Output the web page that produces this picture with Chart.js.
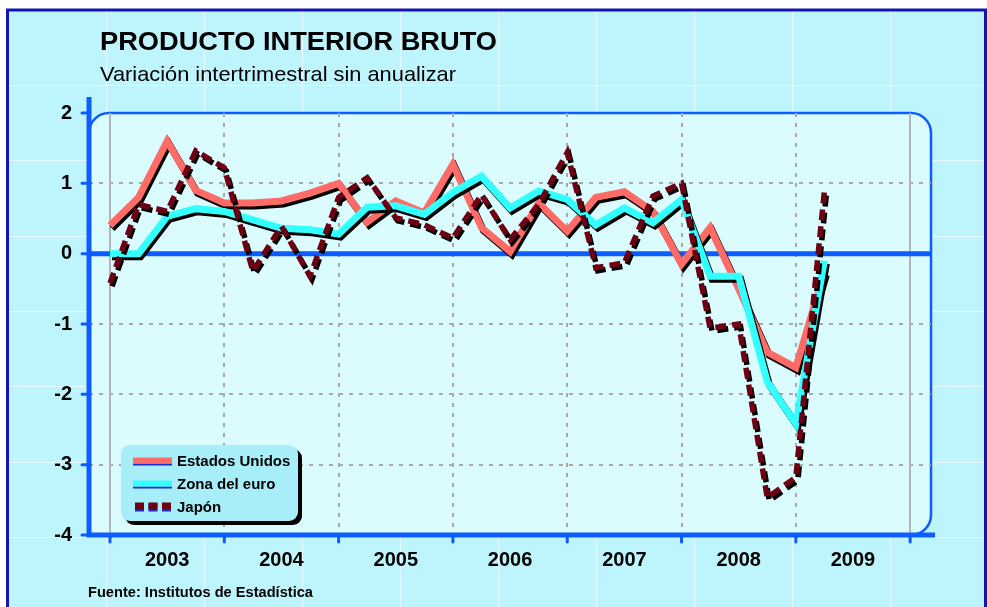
<!DOCTYPE html>
<html>
<head>
<meta charset="utf-8">
<script src="https://cdn.jsdelivr.net/npm/chart.js@4.4.0/dist/chart.umd.min.js"></script>
<style>
html,body{margin:0;padding:0;background:#fff;overflow:hidden}
#pib{display:block}
</style>
</head>
<body>
<canvas id="pib" width="987" height="607"></canvas>
<script>
// trimestres 2003-I .. 2009-II
const quarters = ['03-I','03-II','03-III','03-IV','04-I','04-II','04-III','04-IV',
                  '05-I','05-II','05-III','05-IV','06-I','06-II','06-III','06-IV',
                  '07-I','07-II','07-III','07-IV','08-I','08-II','08-III','08-IV',
                  '09-I','09-II'];
const years = ['2003','2004','2005','2006','2007','2008','2009'];
const yTicks = [2, 1, 0, -1, -2, -3, -4];
const seriesNames = ['Estados Unidos', 'Zona del euro', 'Japón'];

const usa   = [0.4, 0.8, 1.6, 0.9, 0.72, 0.72, 0.75, 0.86, 1.0, 0.45, 0.75, 0.58, 1.27, 0.37, 0.03, 0.72,
               0.32, 0.8, 0.88, 0.6, -0.15, 0.37, -0.5, -1.4, -1.62, -0.26];
const euro  = [0.0, 0.0, 0.53, 0.64, 0.6, 0.48, 0.36, 0.34, 0.28, 0.66, 0.68, 0.56, 0.87, 1.1, 0.65, 0.89,
               0.77, 0.41, 0.65, 0.44, 0.77, -0.32, -0.32, -1.82, -2.42, -0.1];
const japan = [-0.42, 0.7, 0.6, 1.46, 1.22, -0.25, 0.39, -0.32, 0.8, 1.08, 0.51, 0.41, 0.22, 0.84, 0.2, 0.7,
               1.44, -0.2, -0.13, 0.82, 1.0, -1.06, -1.0, -3.47, -3.18, 0.89];

const colors = ['#ff6b66', '#33ffff', '#6e0014'];
const AXIS = '#0d5cff';
const FONT = '"Liberation Sans", Arial, sans-serif';

function pts(arr) { return arr.map((v, i) => ({x: i, y: v})); }

function stretchText(ctx, str, x, y, font, w) {
    ctx.font = font;
    const m = ctx.measureText(str).width;
    ctx.save();
    ctx.translate(x, y);
    if (w) ctx.scale(w / m, 1);
    ctx.fillText(str, 0, 0);
    ctx.restore();
}

const fondo = {
    id: 'fondo',
    beforeDraw(chart) {
        const {ctx, chartArea: a, scales: {x, y}} = chart;
        const W = chart.width, H = chart.height;
        ctx.save();
        ctx.fillStyle = '#fff';
        ctx.fillRect(0, 0, W, H);
        ctx.fillStyle = '#bef4fc';
        ctx.fillRect(6, 9, W - 6, H - 9);
        // faint white pattern
        ctx.strokeStyle = 'rgba(255,255,255,0.6)';
        ctx.lineWidth = 1;
        ctx.beginPath();
        for (let gx = 105.5; gx < W; gx += 98.1) { ctx.moveTo(Math.round(gx) + 0.5, 11); ctx.lineTo(Math.round(gx) + 0.5, H); }
        for (let gy = 85; gy < H; gy += 75.3) { ctx.moveTo(8, Math.round(gy) + 0.5); ctx.lineTo(984, Math.round(gy) + 0.5); }
        ctx.stroke();
        // outer frame
        ctx.strokeStyle = '#1414b4';
        ctx.lineWidth = 3;
        ctx.beginPath();
        ctx.moveTo(7.5, H + 5); ctx.lineTo(7.5, 10); ctx.lineTo(985.5, 10); ctx.lineTo(985.5, H + 5);
        ctx.stroke();

        // plot panel
        const L = a.left, T = y.getPixelForValue(2), R = a.right - 2, B = y.getPixelForValue(-4), r = 20;
        ctx.beginPath();
        ctx.moveTo(L, B);
        ctx.lineTo(L, T + r);
        ctx.arcTo(L, T, L + r, T, r);
        ctx.lineTo(R - r, T);
        ctx.arcTo(R, T, R, T + r, r);
        ctx.lineTo(R, B - r);
        ctx.arcTo(R, B, R - r, B, r);
        ctx.closePath();
        ctx.fillStyle = '#dafcfe';
        ctx.fill();
        ctx.strokeStyle = AXIS;
        ctx.lineWidth = 2.5;
        ctx.stroke();

        // dotted grid
        ctx.strokeStyle = '#a9a9a9';
        ctx.lineWidth = 2;
        ctx.setLineDash([4, 6]);
        ctx.beginPath();
        [1, -1, -2, -3].forEach(v => {
            const py = Math.round(y.getPixelForValue(v));
            ctx.moveTo(L, py); ctx.lineTo(R, py);
        });
        for (let q = 4; q < 28; q += 4) {
            const px = Math.round(x.getPixelForValue(q));
            ctx.moveTo(px, T); ctx.lineTo(px, B);
        }
        ctx.stroke();
        ctx.setLineDash([]);
        ctx.strokeStyle = '#b4b4b4';
        ctx.beginPath();
        [0, 28].forEach(q => {
            const px = Math.round(x.getPixelForValue(q));
            ctx.moveTo(px, T); ctx.lineTo(px, B);
        });
        ctx.stroke();

        // zero line and axes
        ctx.strokeStyle = AXIS;
        ctx.lineWidth = 5;
        const y0 = y.getPixelForValue(0);
        ctx.beginPath();
        ctx.moveTo(L, y0); ctx.lineTo(R + 1, y0);
        ctx.moveTo(L, 97); ctx.lineTo(L, B + 2.5);
        ctx.moveTo(L - 2.5, B); ctx.lineTo(R + 4, B);
        ctx.stroke();
        // tick stubs
        ctx.lineWidth = 3;
        ctx.lineCap = 'round';
        ctx.beginPath();
        yTicks.forEach(v => {
            const py = y.getPixelForValue(v);
            ctx.moveTo(L - 7, py); ctx.lineTo(L, py);
        });
        for (let q = 0; q <= 28; q += 4) {
            const px = x.getPixelForValue(q);
            ctx.moveTo(px, B); ctx.lineTo(px, B + 7);
        }
        ctx.stroke();
        ctx.restore();
    },
    afterDraw(chart) {
        const {ctx} = chart;
        ctx.save();
        ctx.fillStyle = '#000';
        ctx.textBaseline = 'alphabetic';
        stretchText(ctx, 'PRODUCTO INTERIOR BRUTO', 100, 50, 'bold 25px ' + FONT, 397);
        stretchText(ctx, 'Variación intertrimestral sin anualizar', 100, 81, '21px ' + FONT, 356);
        stretchText(ctx, 'Fuente: Institutos de Estadística', 88, 597, 'bold 15px ' + FONT, 225);

        // legend
        const bx = 121, by = 445, bw = 177, bh = 76;
        ctx.fillStyle = '#000';
        ctx.beginPath(); ctx.roundRect(bx + 4, by + 4, bw, bh, 9); ctx.fill();
        ctx.fillStyle = '#a8eef9';
        ctx.beginPath(); ctx.roundRect(bx, by, bw, bh, 9); ctx.fill();

        seriesNames.forEach((name, i) => {
            const cy = 460.5 + i * 23;
            if (i < 2) {
                ctx.fillStyle = '#1a2bd0';
                ctx.fillRect(133, cy + 3, 39, 2);
                ctx.fillStyle = colors[i];
                ctx.fillRect(133, cy - 3, 39, 6);
            } else {
                [135, 148.5, 162].forEach(sx => {
                    ctx.fillStyle = '#1a2bd0';
                    ctx.fillRect(sx, cy - 3, 9, 8);
                    ctx.fillStyle = colors[i];
                    ctx.fillRect(sx, cy - 4, 9, 7);
                });
            }
            ctx.fillStyle = '#000';
            ctx.font = 'bold 15px ' + FONT;
            ctx.fillText(name, 177, cy + 5);
        });
        ctx.restore();
    }
};

const sombra = {
    id: 'sombra',
    beforeDatasetDraw(chart) {
        const c = chart.ctx;
        c.save();
        c.shadowColor = '#000';
        c.shadowOffsetX = 2;
        c.shadowOffsetY = 3;
        c.shadowBlur = 0;
    },
    afterDatasetDraw(chart) {
        chart.ctx.restore();
    }
};

const ctx1 = document.getElementById('pib').getContext('2d');
const pibChart = new Chart(ctx1, {
    type: 'line',
    data: {
        labels: quarters,
        datasets: [
            {label: seriesNames[0], data: pts(usa), borderColor: colors[0], borderWidth: 7, order: 2},
            {label: seriesNames[1], data: pts(euro), borderColor: colors[1], borderWidth: 7, order: 1},
            {label: seriesNames[2], data: pts(japan), borderColor: colors[2], borderWidth: 5.5, borderDash: [11, 6], order: 0}
        ]
    },
    options: {
        responsive: false,
        animation: false,
        devicePixelRatio: 1,
        layout: {padding: {top: 113, right: 54, bottom: 0, left: 0}},
        elements: {
            point: {radius: 0, hoverRadius: 0},
            line: {tension: 0, fill: false, borderJoinStyle: 'miter', borderCapStyle: 'butt'}
        },
        plugins: {legend: {display: false}, title: {display: false}, tooltip: {enabled: false}},
        events: [],
        scales: {
            x: {
                type: 'linear', min: -0.735, max: 28.8,
                afterBuildTicks: s => { s.ticks = years.map((yr, k) => ({value: 2 + 4 * k})); },
                afterFit: s => { s.height = 72; },
                grid: {display: false, drawTicks: false},
                border: {display: false},
                ticks: {
                    autoSkip: false, maxRotation: 0, padding: 13, color: '#000',
                    font: {family: FONT, size: 20, weight: 'bold'},
                    callback: (v, i) => years[i]
                }
            },
            y: {
                min: -4, max: 2,
                afterBuildTicks: s => { s.ticks = yTicks.map(v => ({value: v})); },
                afterFit: s => { s.width = 89; },
                grid: {display: false, drawTicks: false},
                border: {display: false},
                ticks: {
                    padding: 17, color: '#000',
                    font: {family: FONT, size: 20, weight: 'bold'}
                }
            }
        }
    },
    plugins: [fondo, sombra]
});
</script>
</body>
</html>
